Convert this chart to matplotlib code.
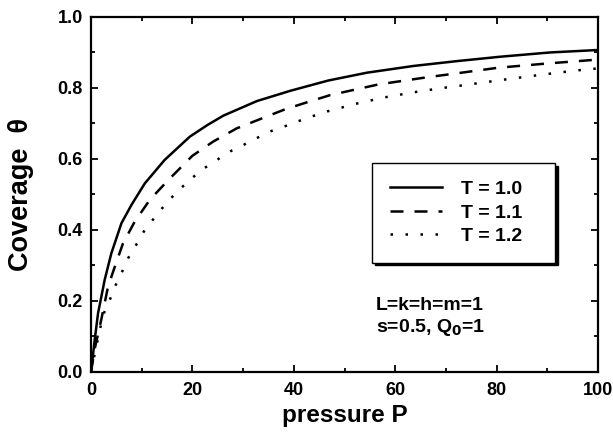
import matplotlib
matplotlib.use('Agg')
import matplotlib.pyplot as plt
from matplotlib.ticker import MultipleLocator

plt.rcParams['font.family'] = ['Liberation Sans', 'DejaVu Sans']
plt.rcParams['font.weight'] = 'bold'

# values
p_t10 = [0, 0.72, 1.38, 2.7, 4.0, 6.0, 7.95, 10.6, 14.5, 19.5, 23.0, 26.1, 32.7, 39.3,
         46.8, 54.4, 63.6, 72.4, 80.7, 90.5, 100]
theta_t10 = [0, 0.09, 0.165, 0.26, 0.334, 0.419, 0.47, 0.531, 0.597, 0.663, 0.696, 0.722,
             0.763, 0.792, 0.821, 0.843, 0.862, 0.876, 0.888, 0.90, 0.907]

p_t11 = [0, 0.8, 2.0, 3.35, 4.7, 6.3, 8.6, 11.6, 15.2, 20.0, 24.1, 28.7, 33.3, 38.3,
         42.9, 47.2, 56.7, 66.2, 71.5, 80.3, 90.0, 100]
theta_t11 = [0, 0.07, 0.146, 0.24, 0.297, 0.362, 0.423, 0.485, 0.54, 0.609, 0.649,
             0.686, 0.712, 0.74, 0.761, 0.78, 0.81, 0.83, 0.84, 0.857, 0.869, 0.88]

p_t12 = [0, 1.0, 2.37, 3.7, 4.7, 6.0, 7.3, 8.9, 10.6, 12.6, 14.7, 17.0, 19.5, 21.8,
         24.8, 27.4, 30.0, 33.0, 35.6, 38.6, 41.2, 43.8, 46.6, 52.1, 57.7, 63.3,
         68.8, 72.6, 80.7, 89.2, 97.4, 100]
theta_t12 = [0, 0.07, 0.16, 0.203, 0.24, 0.278, 0.32, 0.358, 0.4, 0.436, 0.473, 0.508,
             0.541, 0.569, 0.597, 0.621, 0.639, 0.661, 0.679, 0.694, 0.708, 0.721,
             0.734, 0.755, 0.773, 0.787, 0.799, 0.806, 0.822, 0.838, 0.852, 0.855]

labels = ['T = 1.0', 'T = 1.1', 'T = 1.2']

fig = plt.figure(figsize=(6.13, 4.32), dpi=100)
ax = fig.add_axes([0.1485, 0.139, 0.827, 0.8217])

ax.plot(p_t10, theta_t10, color='black', lw=1.8, ls='-', label=labels[0])
ax.plot(p_t11, theta_t11, color='black', lw=1.8, ls=(0, (5.2, 4.4)), label=labels[1])
ax.plot(p_t12, theta_t12, color='black', lw=1.8, ls=(0, (1.0, 5.0)), label=labels[2])

ax.set_xlim(0, 100)
ax.set_ylim(0, 1.0)
ax.xaxis.set_major_locator(MultipleLocator(20))
ax.xaxis.set_minor_locator(MultipleLocator(10))
ax.yaxis.set_major_locator(MultipleLocator(0.2))
ax.yaxis.set_minor_locator(MultipleLocator(0.1))
ax.xaxis.set_major_formatter(lambda v, pos: '%d' % v)
ax.yaxis.set_major_formatter(lambda v, pos: '%.1f' % v)

ax.tick_params(which='both', direction='in', top=True, right=True, width=1.3)
ax.tick_params(which='major', length=5, labelsize=13)
ax.tick_params(axis='x', which='major', pad=7)
ax.tick_params(axis='y', which='major', pad=6)
ax.tick_params(which='minor', length=3)
for s in ax.spines.values():
    s.set_linewidth(1.6)

ax.set_xlabel('pressure P', fontsize=17.5, fontweight='bold', labelpad=4)
ax.set_ylabel('Coverage  θ', fontsize=19.5, fontweight='bold', labelpad=17)

leg = ax.legend(loc='upper left',
                bbox_to_anchor=(372 / 613, 1 - 262 / 432, 183 / 613, 99 / 432),
                bbox_transform=fig.transFigure, mode='expand', fontsize=14,
                frameon=True, fancybox=False,
                shadow={'color': 'black', 'alpha': 1},
                handlelength=2.7, borderpad=0.9, labelspacing=0.3,
                handletextpad=1.0, borderaxespad=0)
leg.get_frame().set_edgecolor('black')
leg.get_frame().set_linewidth(1.0)
for t in leg.get_texts():
    t.set_fontweight('bold')

fig.text(376 / 613, 1 - 306 / 432, 'L=k=h=m=1', fontsize=14, fontweight='bold', va='center')
fig.text(376 / 613, 1 - 327 / 432, 's=0.5, Q$_\\mathbf{0}$=1', fontsize=14, fontweight='bold', va='center')

fig.savefig('out.png', dpi=100)
